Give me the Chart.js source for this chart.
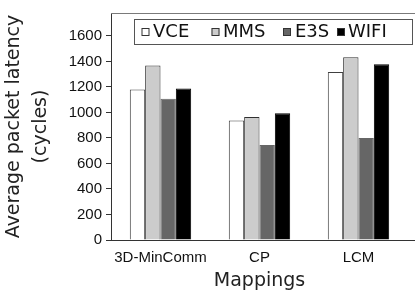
<!DOCTYPE html>
<html><head><meta charset="utf-8">
<script src="https://cdn.jsdelivr.net/npm/chart.js@4/dist/chart.umd.min.js"></script>
<style>html,body{margin:0;padding:0;background:#fff;}#wrap{width:415px;height:291px;position:relative;}</style>
</head><body><div id="wrap"><canvas id="c" width="415" height="291"></canvas></div>
<script>
const categories = ["3D-MinComm", "CP", "LCM"];
const seriesNames = ["VCE", "MMS", "E3S", "WIFI"];
const vce = [1180, 937, 1318];
const mms = [1368, 965, 1433];
const e3s = [1108, 745, 800];
const wifi = [1188, 994, 1378];
const yTicks = [0, 200, 400, 600, 800, 1000, 1200, 1400, 1600];
const yTitle = ["Average packet latency", "(cycles)"];
const xTitle = "Mappings";

const fills = ["#ffffff", "#cccccc", "#666666", "#000000"];
const borders = ["#404040", "#303030", "#666666", "#000000"];
const values = [vce, mms, e3s, wifi];

const frame = {
  id: 'frame',
  afterDraw(chart) {
    const {ctx, chartArea: a, width} = chart;
    ctx.save();
    ctx.strokeStyle = '#7a7a7a'; ctx.lineWidth = 1;
    ctx.beginPath(); ctx.moveTo(a.left, a.top + 0.5); ctx.lineTo(width, a.top + 0.5); ctx.stroke();
    ctx.strokeStyle = '#333'; 
    ctx.beginPath(); ctx.moveTo(a.right, a.bottom + 0.5); ctx.lineTo(width, a.bottom + 0.5); ctx.stroke();
    // legend
    const x0 = a.left + 23, y0 = a.top + 6, x1 = width - 2, h = 25;
    ctx.fillStyle = '#fff'; ctx.fillRect(x0, y0, x1 - x0, h);
    ctx.strokeStyle = '#555'; ctx.lineWidth = 1;
    ctx.strokeRect(x0 + 0.5, y0 + 0.5, x1 - x0 - 1, h);
    ctx.font = '18px "DejaVu Sans"'; ctx.textBaseline = 'middle';
    const markX = [141.5, 211.5, 283, 337];
    const textX = [153, 223, 295, 348];
    chart.data.datasets.forEach((ds, i) => {
      const mx = markX[i], my = y0 + h / 2 - 3.5;
      ctx.fillStyle = ds.backgroundColor; ctx.fillRect(mx, my, 8, 8);
      ctx.strokeStyle = '#333'; ctx.strokeRect(mx + 0.5, my + 0.5, 7, 7);
      ctx.fillStyle = '#111'; ctx.textAlign = 'left';
      ctx.fillText(ds.label, textX[i], y0 + h / 2 + 1);
    });
    ctx.restore();
  }
};

new Chart(document.getElementById('c'), {
  type: 'bar',
  data: {
    labels: categories,
    datasets: seriesNames.map((n, i) => ({
      label: n, data: values[i], backgroundColor: fills[i], borderColor: borders[i],
      borderWidth: 1, barPercentage: 1, categoryPercentage: 0.62
    }))
  },
  options: {
    responsive: false, animation: false,
    layout: {padding: {top: 11, right: 7, left: 0, bottom: 0}},
    plugins: {legend: {display: false}, tooltip: {enabled: false}},
    scales: {
      x: {
        grid: {display: true, drawOnChartArea: false, drawTicks: false, color: '#333'},
        border: {display: true, color: '#333', width: 1},
        ticks: {font: {family: '"Liberation Sans"', size: 15}, color: '#111', padding: 9, maxRotation: 0},
        title: {display: true, text: xTitle, font: {family: '"DejaVu Sans"', size: 19, lineHeight: 1.0}, color: '#222', padding: {top: 8, bottom: 0}},
        afterFit(s) { s.height = 51; }
      },
      y: {
        min: 0, max: 1780,
        afterBuildTicks(s) { s.ticks = yTicks.map(v => ({value: v})); },
        grid: {display: true, drawOnChartArea: false, drawTicks: true, tickLength: 5, color: '#333'},
        border: {display: true, color: '#333', width: 1},
        ticks: {font: {family: '"Liberation Sans"', size: 15}, color: '#111', padding: 4, callback: v => String(v)},
        title: {display: true, text: yTitle, font: {family: '"DejaVu Sans"', size: 19, lineHeight: 1.45}, color: '#222', padding: {top: 0, bottom: 0}},
        afterFit(s) { s.width = 111; }
      }
    }
  },
  plugins: [frame]
});
</script></body></html>
